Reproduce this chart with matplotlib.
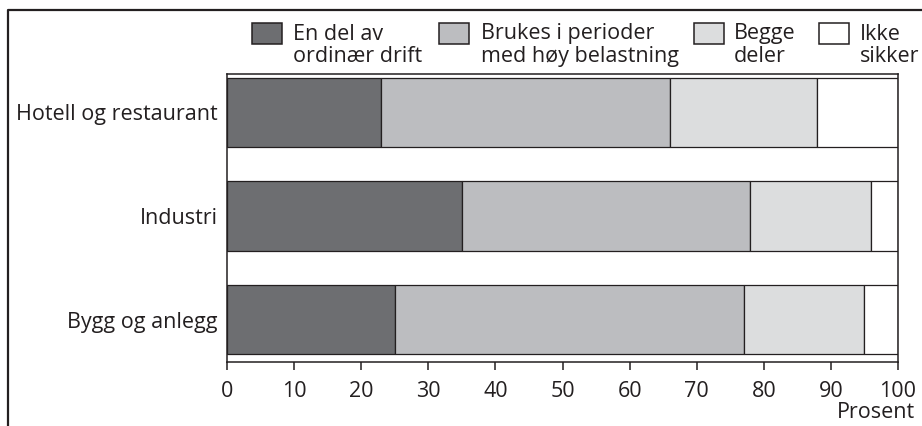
import matplotlib.pyplot as plt
from matplotlib.patches import Rectangle
from matplotlib.lines import Line2D

plt.rcParams['font.family'] = ['Open Sans', 'DejaVu Sans']

# data (prosent)
bransjer = ['Hotell og restaurant', 'Industri', 'Bygg og anlegg']
ordinaer = [23, 35, 25]
hoy_belastning = [43, 43, 52]
begge = [22, 18, 18]
ikke_sikker = [12, 4, 5]

serier = [ordinaer, hoy_belastning, begge, ikke_sikker]
navn = ['En del av\nordinær drift', 'Brukes i perioder\nmed høy belastning',
        'Begge\ndeler', 'Ikke\nsikker']
farger = ['#6d6e71', '#bcbdc0', '#dcddde', '#ffffff']
kant = '#231f20'
fs = 15.5

W, H = 922, 426
fig = plt.figure(figsize=(W / 100, H / 100), dpi=100)
ax = fig.add_axes([227 / W, 1 - 362 / H, 671 / W, 288.5 / H])

y = list(range(len(bransjer)))
venstre = [0] * len(bransjer)
for verdier, farge in zip(serier, farger):
    ax.barh(y, verdier, left=venstre, height=0.67, color=farge,
            edgecolor=kant, linewidth=0.9)
    venstre = [a + b for a, b in zip(venstre, verdier)]

ax.set_xlim(0, 100)
ax.set_ylim(2.41, -0.376)
ax.set_xticks(range(0, 101, 10))
ax.set_yticks(y)
ax.set_yticklabels(bransjer)
ax.tick_params(axis='y', length=0, pad=6.5, labelsize=fs, labelcolor=kant)
ax.tick_params(axis='x', length=6, width=1.1, color=kant, direction='out',
               pad=7.5, labelsize=fs, labelcolor=kant)
for s in ax.spines.values():
    s.set_linewidth(1.1)
    s.set_color(kant)

fig.text(915 / W, 1 - 418 / H, 'Prosent', ha='right', va='baseline',
         fontsize=fs, color=kant)

# forklaring
boks_x = [252, 439, 694, 819]
tekst_x = [293, 481, 734, 860]
for bx, tx, farge, tekst in zip(boks_x, tekst_x, farger, navn):
    fig.add_artist(Rectangle((bx / W, 1 - 44 / H), 30 / W, 21 / H,
                             transform=fig.transFigure, facecolor=farge,
                             edgecolor=kant, linewidth=1.1))
    fig.text(tx / W, 1 - 23.5 / H, tekst, ha='left', va='top', fontsize=fs,
             color=kant, linespacing=1.08)

# ytre ramme
fig.add_artist(Line2D([7.5 / W, 7.5 / W, 1], [0, 1 - 10 / H, 1 - 10 / H],
                      transform=fig.transFigure, color=kant, linewidth=1.6))

fig.savefig('out.png', dpi=100)
